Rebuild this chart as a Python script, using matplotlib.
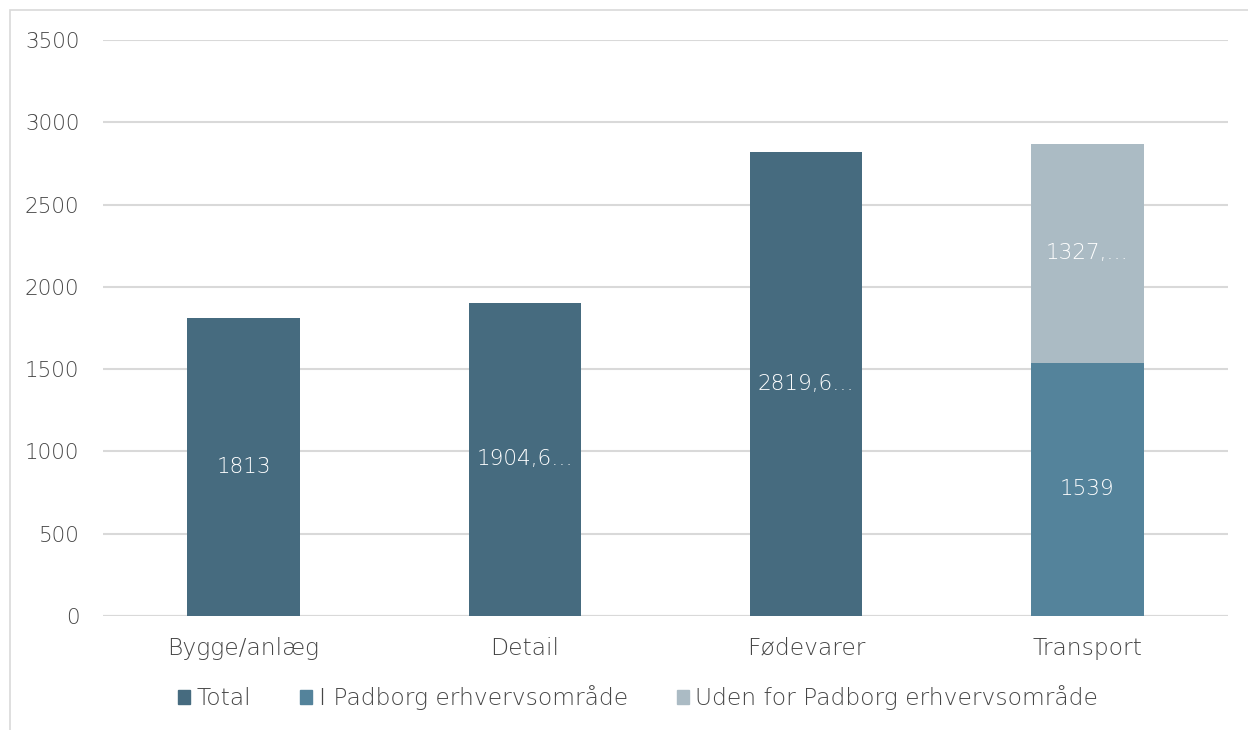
import matplotlib
matplotlib.use("Agg")
import matplotlib.pyplot as plt
from matplotlib.patches import Rectangle, Patch

categories = ["Bygge/anlæg", "Detail", "Fødevarer", "Transport"]
total = [1813, 1904.6, 2819.6, 0]
i_padborg = [0, 0, 0, 1539]
uden_for = [0, 0, 0, 1327.5]
label_total = ["1813", "1904,6…", "2819,6…", ""]
label_padborg = ["", "", "", "1539"]
label_uden = ["", "", "", "1327,…"]
yticks = [0, 500, 1000, 1500, 2000, 2500, 3000, 3500]

c_total = "#466b7f"
c_pad = "#54839b"
c_uden = "#abbbc4"
txt = "#464646"
grid = "#d9d9d9"

plt.rcParams["font.family"] = ["DejaVu Sans"]
FS_NUM = 15.5
FS_TXT = 16.8

W, H = 1248, 730
fig = plt.figure(figsize=(W / 100, H / 100), dpi=100)
fig.patches.append(Rectangle((10 / W, -0.1), 2, 1.1 - 10 / H, transform=fig.transFigure,
                             fill=False, edgecolor=grid, linewidth=1.2))
ax = fig.add_axes([103 / W, (730 - 616) / H, (1228 - 103) / W, (616 - 40) / H])

x = range(len(categories))
w = 0.4
b1 = ax.bar(x, total, w, color=c_total, label="Total")
b2 = ax.bar(x, i_padborg, w, bottom=total, color=c_pad, label="I Padborg erhvervsområde")
bottoms = [t + p for t, p in zip(total, i_padborg)]
b3 = ax.bar(x, uden_for, w, bottom=bottoms, color=c_uden, label="Uden for Padborg erhvervsområde")

for bars, labs in ((b1, label_total), (b2, label_padborg), (b3, label_uden)):
    for r, l in zip(bars, labs):
        if l:
            ax.text(r.get_x() + r.get_width() / 2, r.get_y() + r.get_height() / 2, l,
                    ha="center", va="center", color="white", fontsize=FS_NUM, fontweight="light")

ax.set_xlim(-0.5, 3.5)
ax.set_ylim(0, 3500)
ax.set_yticks(yticks)
ax.set_xticks(list(x))
ax.set_xticklabels(categories)
ax.tick_params(axis="both", length=0, colors=txt)
ax.tick_params(axis="x", pad=15, labelsize=FS_TXT)
ax.tick_params(axis="y", pad=17, labelsize=FS_NUM)
for lab in ax.get_xticklabels() + ax.get_yticklabels():
    lab.set_fontweight("light")
for s in ax.spines.values():
    s.set_visible(False)
ax.grid(axis="y", color=grid, linewidth=1.5)
ax.set_axisbelow(True)
ax.axhline(0, color=grid, linewidth=1.5, zorder=0.5)

handles = [Patch(color=c_total), Patch(color=c_pad), Patch(color=c_uden)]
leg = fig.legend(handles, ["Total", "I Padborg erhvervsområde", "Uden for Padborg erhvervsområde"],
                 loc="center", bbox_to_anchor=(638 / W, (730 - 698) / H), ncol=3, frameon=False,
                 fontsize=FS_TXT, labelcolor=txt, handlelength=0.52, handleheight=0.52,
                 handletextpad=0.28, columnspacing=2.1)
for t in leg.get_texts():
    t.set_fontweight("light")

fig.savefig("out.png", dpi=100)
